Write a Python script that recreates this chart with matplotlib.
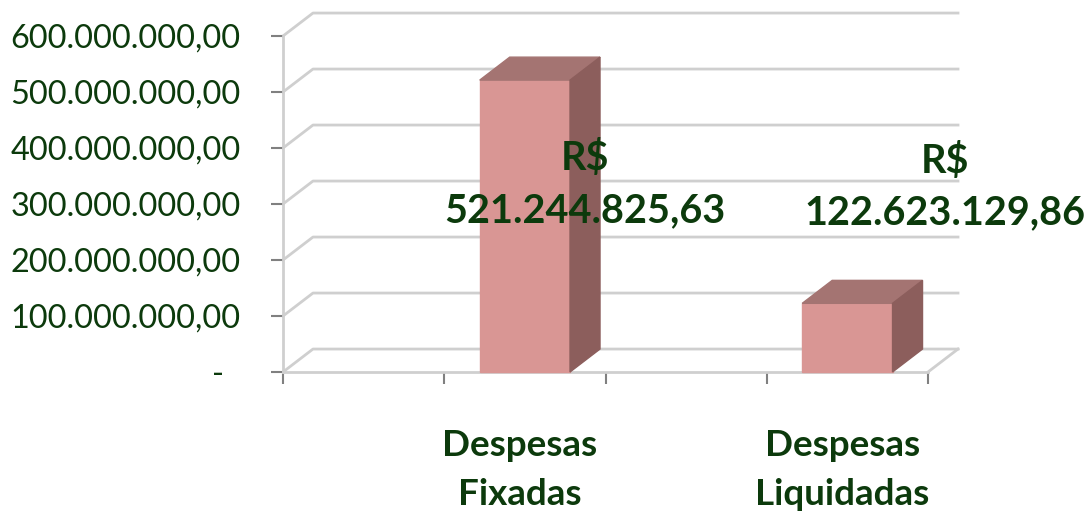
import matplotlib.pyplot as plt

# dados
categorias = ['Despesas\nFixadas', 'Despesas\nLiquidadas']
valores = [521244825.63, 122623129.86]
rotulos = ['R$\n521.244.825,63', 'R$\n122.623.129,86']
yticks = [0, 100e6, 200e6, 300e6, 400e6, 500e6, 600e6]
ytick_labels = ['-  ', '100.000.000,00', '200.000.000,00', '300.000.000,00',
                '400.000.000,00', '500.000.000,00', '600.000.000,00']

verde = '#0C3A0C'
grade = '#CFCFCF'
frente = '#D99694'
topo = '#A47472'
lado = '#8C5E5C'

plt.rcParams['font.family'] = ['Lato', 'DejaVu Sans']

fig = plt.figure(figsize=(10.88, 5.15), dpi=100)
ax = fig.add_axes([283 / 1088, 143 / 515, 645 / 1088, 336 / 515])
ax.set_xlim(0, 2)
ax.set_ylim(0, 600e6)

# profundidade 3D (em unidades de dados)
dx = 0.093
dy = 41e6

# parede de fundo / grade
for v in yticks:
    ax.plot([0, dx, 2 + dx], [v, v + dy, v + dy], color=grade, lw=2,
            clip_on=False, zorder=1)
ax.plot([2 + dx, 2], [dy, 0], color=grade, lw=2, clip_on=False, zorder=1)

# barras
w = 0.28
centros = [0.75, 1.75]
for c, h in zip(centros, valores):
    x0, x1 = c - w / 2, c + w / 2
    ax.fill([x0, x1, x1, x0], [0, 0, h, h], color=frente, zorder=3,
            clip_on=False)
    ax.fill([x0, x0 + dx, x1 + dx, x1], [h, h + dy, h + dy, h], color=topo,
            zorder=3, clip_on=False)
    ax.fill([x1, x1 + dx, x1 + dx, x1], [0, dy, h + dy, h], color=lado,
            zorder=3, clip_on=False)

# rótulos de dados
pos_rot = [(0.936, 336e6), (2.053, 331e6)]
for (x, y), t in zip(pos_rot, rotulos):
    ax.text(x, y, t, ha='center', va='center', fontsize=28.5, fontweight='bold',
            color=verde, linespacing=1.5, zorder=5, clip_on=False)

# eixos
for s in ['top', 'right']:
    ax.spines[s].set_visible(False)
ax.spines['left'].set_color(grade)
ax.spines['bottom'].set_color(grade)
ax.spines['left'].set_linewidth(2)
ax.spines['bottom'].set_linewidth(2)
ax.set_yticks(yticks)
ax.set_yticklabels(ytick_labels)
ax.set_xticks([0, 0.5, 1, 1.5, 2])
ax.set_xticklabels([])
ax.tick_params(axis='y', length=8.6, width=1.5, color='#808080',
               labelcolor=verde, labelsize=23.4, pad=22)
ax.tick_params(axis='x', length=8.6, width=1.5, color='#808080')

for c, t in zip(centros, categorias):
    ax.text(c - 0.015, -175e6, t, ha='center', va='center', fontsize=26.5,
            fontweight='bold', color=verde, linespacing=1.6, clip_on=False)

fig.savefig('out.png', dpi=100)
